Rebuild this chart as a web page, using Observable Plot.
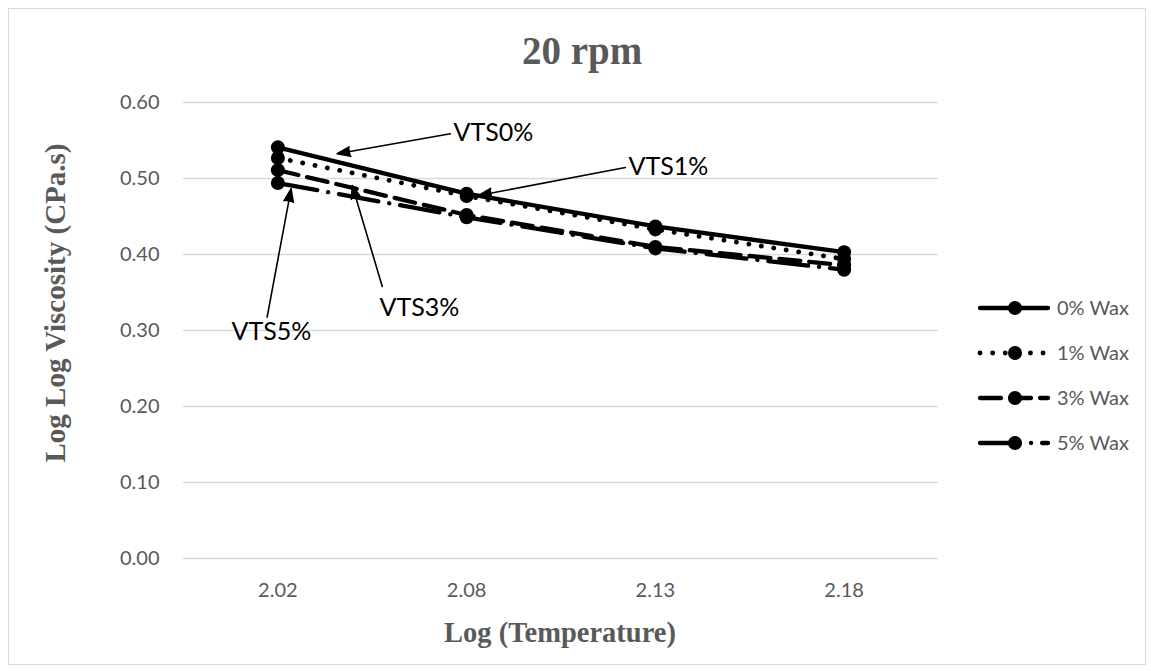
<!DOCTYPE html>
<html><head><meta charset="utf-8">
<script src="https://cdn.jsdelivr.net/npm/d3@7"></script>
<script src="https://cdn.jsdelivr.net/npm/@observablehq/plot@0.6"></script>
<style>
html,body{margin:0;padding:0;background:#fff;}
#wrap{position:relative;width:1151px;height:672px;overflow:hidden;}
#wrap svg{position:absolute;left:0;top:0;}
#frame{position:absolute;left:8px;top:8px;width:1138px;height:657px;border:1px solid #d9d9d9;box-sizing:border-box;}
</style></head><body><div id="wrap"><div id="frame"></div></div>
<script>
// ---- data ----
const temps = ["2.02", "2.08", "2.13", "2.18"];
const wax0 = [0.541, 0.480, 0.437, 0.403];
const wax1 = [0.527, 0.477, 0.433, 0.394];
const wax3 = [0.511, 0.452, 0.410, 0.386];
const wax5 = [0.494, 0.449, 0.408, 0.380];
const seriesNames = ["0% Wax", "1% Wax", "3% Wax", "5% Wax"];
const yTicks = [0, 0.1, 0.2, 0.3, 0.4, 0.5, 0.6];
const title = "20 rpm";
const xTitle = "Log (Temperature)";
const yTitle = "Log Log Viscosity (CPa.s)";
// annotation labels (data units: x = category index, y = value)
const noteLabels = ["VTS0%", "VTS1%", "VTS3%", "VTS5%"];
const noteTextX = [1.142, 2.069, 0.750, -0.034];
const noteTextY = [0.5605, 0.5145, 0.329, 0.2974];
const noteFromX = [0.914, 1.841, 0.553, -0.057];
const noteFromY = [0.5588, 0.5145, 0.358, 0.3175];
const noteToX = [0.314, 1.064, 0.394, 0.070];
const noteToY = [0.5325, 0.4776, 0.4908, 0.4864];

// ---- build ----
const series = [wax0, wax1, wax3, wax5];
const styles = [
  {dash: null, w: 4.3},
  {dash: "0.1 12.5", w: 4.8},
  {dash: "21 9", w: 4.3},
  {dash: "40 11 0.1 11", w: 4.3}
];
const rows = series.flatMap((vals, s) => vals.map((v, i) => ({xi: i, v, s})));
const notes = noteLabels.map((label, i) => ({
  label, tx: noteTextX[i], ty: noteTextY[i],
  x1: noteFromX[i], y1: noteFromY[i], x2: noteToX[i], y2: noteToY[i]
}));

const W = 1151, H = 672, ML = 183, MR = 213, MT = 102, MB = 114;
const GRAY = "#595959";

const marks = [
  Plot.ruleY(yTicks, {stroke: "#d9d9d9", strokeWidth: 1.3}),
  Plot.axisY({ticks: yTicks, tickFormat: d3.format(".2f"), tickSize: 0, tickPadding: 24, label: null, fill: GRAY, fontSize: 20}),
  Plot.axisX({ticks: d3.range(temps.length), tickFormat: i => temps[i], tickSize: 0, tickPadding: 24, label: null, fill: GRAY, fontSize: 20})
];
series.forEach((vals, s) => {
  const data = rows.filter(d => d.s === s);
  const st = styles[s];
  marks.push(Plot.line(data, {x: "xi", y: "v", stroke: "black", strokeWidth: st.w,
    strokeDasharray: st.dash || undefined, strokeLinecap: "round", strokeLinejoin: "round"}));
  marks.push(Plot.dot(data, {x: "xi", y: "v", r: 7, fill: "black", stroke: "none"}));
});
marks.push(Plot.arrow(notes, {x1: "x1", y1: "y1", x2: "x2", y2: "y2", stroke: "black", fill: "black",
  strokeWidth: 1.6, headLength: 13, headAngle: 40, strokeLinejoin: "miter"}));
marks.push(Plot.text(notes, {x: "tx", y: "ty", text: "label", fill: "black", fontSize: 25, fontFamily: "Lato"}));

const chart = Plot.plot({
  width: W, height: H,
  marginLeft: ML, marginRight: MR, marginTop: MT, marginBottom: MB,
  style: {background: "transparent", fontFamily: "Lato, sans-serif", fontSize: "20px", color: GRAY, overflow: "visible"},
  x: {type: "linear", domain: [-0.5, temps.length - 0.5]},
  y: {domain: [0, 0.6]},
  marks
});
document.getElementById("wrap").appendChild(chart);

// ---- titles and legend overlay ----
const ov = d3.select("#wrap").append("svg").attr("width", W).attr("height", H)
  .style("pointer-events", "none");
const serif = "'Liberation Serif', 'Times New Roman', serif";
ov.append("text").attr("x", 582).attr("y", 64).attr("text-anchor", "middle")
  .attr("font-family", serif).attr("font-weight", "bold").attr("font-size", 39).attr("fill", GRAY).text(title);
ov.append("text").attr("x", 560).attr("y", 632).attr("dy", "0.35em").attr("text-anchor", "middle")
  .attr("font-family", serif).attr("font-weight", "bold").attr("font-size", 28.5).attr("fill", GRAY).text(xTitle);
ov.append("text").attr("transform", "translate(55,303) rotate(-90)").attr("dy", "0.35em").attr("text-anchor", "middle")
  .attr("font-family", serif).attr("font-weight", "bold").attr("font-size", 29).attr("fill", GRAY).text(yTitle);

const lg = ov.append("g");
seriesNames.forEach((name, s) => {
  const y = 308 + s * 45;
  const st = styles[s];
  lg.append("line").attr("x1", 980).attr("x2", 1048).attr("y1", y).attr("y2", y)
    .attr("stroke", "black").attr("stroke-width", st.w).attr("stroke-linecap", "round")
    .attr("stroke-dasharray", st.dash);
  lg.append("circle").attr("cx", 1015).attr("cy", y).attr("r", 7).attr("fill", "black");
  lg.append("text").attr("x", 1057).attr("y", y).attr("dy", "0.35em").attr("font-family", "Lato, sans-serif")
    .attr("font-size", 20).attr("fill", GRAY).text(name);
});
</script></body></html>
